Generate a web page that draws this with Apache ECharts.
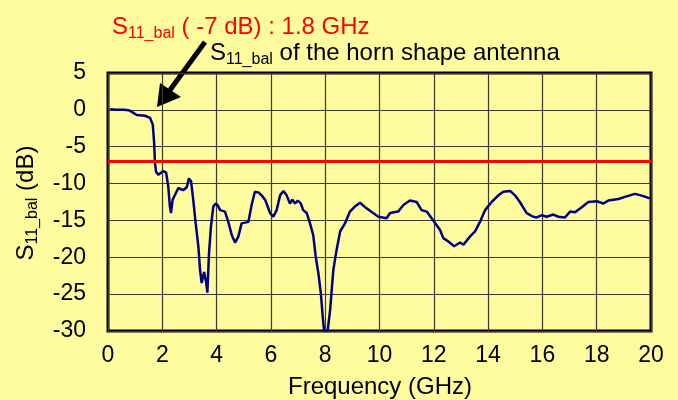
<!DOCTYPE html>
<html>
<head>
<meta charset="utf-8">
<title>S11_bal horn antenna</title>
<script src="https://cdn.jsdelivr.net/npm/echarts@6/dist/echarts.min.js"></script>
<style>
    html, body { margin: 0; padding: 0; background: #fffb9f; }
    #chart { width: 678px; height: 400px; }
</style>
</head>
<body>
<div id="chart"></div>
<script>
// 频率 (GHz)
var freq = [0.07, 0.3, 0.6, 0.8, 1.06, 1.36, 1.55, 1.65, 1.70, 1.73, 1.77, 1.85, 2.04, 2.14, 2.22, 2.28,
    2.32, 2.38, 2.59, 2.77, 2.90, 2.98, 3.06, 3.14, 3.23, 3.33, 3.39, 3.45, 3.54, 3.61, 3.66, 3.72,
    3.79, 3.88, 3.97, 4.05, 4.13, 4.31, 4.43, 4.56, 4.68, 4.80, 4.92, 5.05, 5.17, 5.29, 5.41, 5.54,
    5.66, 5.80, 5.97, 6.09, 6.21, 6.34, 6.46, 6.58, 6.70, 6.79, 6.89, 6.99, 7.10, 7.19, 7.32, 7.44,
    7.56, 7.65, 7.75, 7.84, 7.91, 7.96, 8.09, 8.18, 8.30, 8.42, 8.55, 8.73, 8.91, 9.10, 9.28, 9.47,
    9.65, 9.96, 10.26, 10.39, 10.69, 10.88, 11.12, 11.37, 11.55, 11.74, 11.98, 12.23, 12.35, 12.55,
    12.75, 12.97, 13.09, 13.33, 13.52, 13.70, 13.89, 14.13, 14.38, 14.56, 14.81, 14.99, 15.17, 15.42,
    15.66, 15.79, 15.97, 16.16, 16.40, 16.59, 16.83, 17.02, 17.20, 17.45, 17.69, 18.00, 18.25, 18.43,
    18.80, 19.04, 19.41, 19.72, 19.95];
// S11_bal (dB)
var s11 = [0.1, 0.0, 0.0, -0.1, -0.7, -0.8, -1.1, -2.0, -4.5, -7.2, -8.4, -8.8, -8.3, -8.5, -10.4, -13.1,
    -14.0, -12.2, -10.6, -10.9, -10.5, -9.3, -9.7, -12.2, -15.4, -18.6, -21.7, -23.5, -22.0, -23.3, -24.8, -19.5,
    -15.9, -13.1, -12.7, -13.0, -13.6, -13.8, -15.2, -17.0, -18.0, -17.2, -15.4, -15.3, -15.2, -12.9, -11.1, -11.2,
    -11.6, -12.3, -14.0, -14.5, -13.6, -11.6, -11.0, -11.6, -12.7, -12.2, -12.7, -12.3, -12.7, -13.6, -14.0, -15.4,
    -17.0, -19.9, -22.2, -24.9, -28.1, -30.0, -30.0, -27.2, -21.7, -19.0, -16.5, -15.4, -13.8, -13.1, -12.6, -13.2,
    -13.7, -14.5, -14.7, -14.0, -13.8, -12.9, -12.3, -12.5, -13.6, -13.8, -15.0, -16.3, -17.4, -17.9,
    -18.5, -18.0, -18.3, -17.2, -16.5, -15.2, -13.6, -12.5, -11.6, -11.1, -11.0, -11.6, -12.5, -14.0,
    -14.5, -14.6, -14.3, -14.5, -14.2, -14.5, -14.6, -13.8, -13.9, -13.2, -12.5, -12.4, -12.7, -12.3,
    -12.1, -11.8, -11.4, -11.7, -12.0];
var threshold = -7;
var xTicks = [0, 2, 4, 6, 8, 10, 12, 14, 16, 18, 20];
var yTicks = [5, 0, -5, -10, -15, -20, -25, -30];

var font = '"Liberation Sans", Arial, sans-serif';

var points = [];
for (var i = 0; i < freq.length; i++) {
    points.push([freq[i], s11[i]]);
}

var chart = echarts.init(document.getElementById('chart'));

var option = {
    backgroundColor: '#fffb9f',
    animation: false,
    textStyle: { fontFamily: font },
    grid: {
        left: 108, right: 27, top: 73, bottom: 69,
        show: true, borderColor: '#000', borderWidth: 3
    },
    xAxis: {
        type: 'value',
        min: xTicks[0], max: xTicks[xTicks.length - 1], interval: 2,
        axisLine: { show: false },
        axisTick: { show: false },
        axisLabel: { color: '#000', fontSize: 23, margin: 13, fontFamily: font },
        splitLine: { show: true, lineStyle: { color: '#3a3a2a', width: 1.2 } }
    },
    yAxis: {
        type: 'value',
        min: yTicks[yTicks.length - 1], max: yTicks[0], interval: 5,
        axisLine: { show: false },
        axisTick: { show: false },
        axisLabel: { color: '#000', fontSize: 23, margin: 22, fontFamily: font },
        splitLine: { show: true, lineStyle: { color: '#3a3a2a', width: 1.2 } }
    },
    series: [{
        type: 'line',
        data: points,
        symbol: 'none',
        clip: true,
        lineStyle: { color: '#000080', width: 2.5 },
        markLine: {
            silent: true,
            symbol: ['none', 'none'],
            label: { show: false },
            lineStyle: { color: '#ff0000', width: 3, type: 'solid' },
            data: [{ yAxis: threshold }]
        }
    }],
    graphic: [
        // 红色标注
        {
            type: 'text', left: 112, top: 15,
            style: {
                text: '{m|S}{s|11_bal}{m| ( -7 dB) : 1.8 GHz}',
                fill: '#ff0000',
                rich: {
                    m: { fontSize: 24, fontFamily: font, fill: '#ff0000' },
                    s: { fontSize: 16, fontFamily: font, fill: '#ff0000', padding: [14, 0, 0, 0] }
                }
            }
        },
        {
            type: 'text', left: 210, top: 41,
            style: {
                text: '{m|S}{s|11_bal}{m| of the horn shape antenna}',
                fill: '#000',
                rich: {
                    m: { fontSize: 24, fontFamily: font, fill: '#000' },
                    s: { fontSize: 16, fontFamily: font, fill: '#000', padding: [14, 0, 0, 0] }
                }
            }
        },
        // 箭头
        {
            type: 'line',
            shape: { x1: 205, y1: 42, x2: 170, y2: 90 },
            style: { stroke: '#000', lineWidth: 5 }
        },
        {
            type: 'polygon',
            shape: { points: [[157, 107], [160, 83], [181, 97]] },
            style: { fill: '#000' }
        },
        // 坐标轴标题
        {
            type: 'text', x: 380, y: 387,
            style: {
                text: 'Frequency (GHz)', fontSize: 24, fontFamily: font, fill: '#000',
                align: 'center', verticalAlign: 'middle'
            }
        },
        {
            type: 'text', x: 26, y: 203, rotation: Math.PI / 2,
            style: {
                text: '{m|S}{s|11_bal}{m| (dB)}',
                align: 'center', verticalAlign: 'middle',
                fill: '#000',
                rich: {
                    m: { fontSize: 24, fontFamily: font, fill: '#000' },
                    s: { fontSize: 16, fontFamily: font, fill: '#000', padding: [14, 0, 0, 0] }
                }
            }
        }
    ]
};

chart.setOption(option);
</script>
</body>
</html>
